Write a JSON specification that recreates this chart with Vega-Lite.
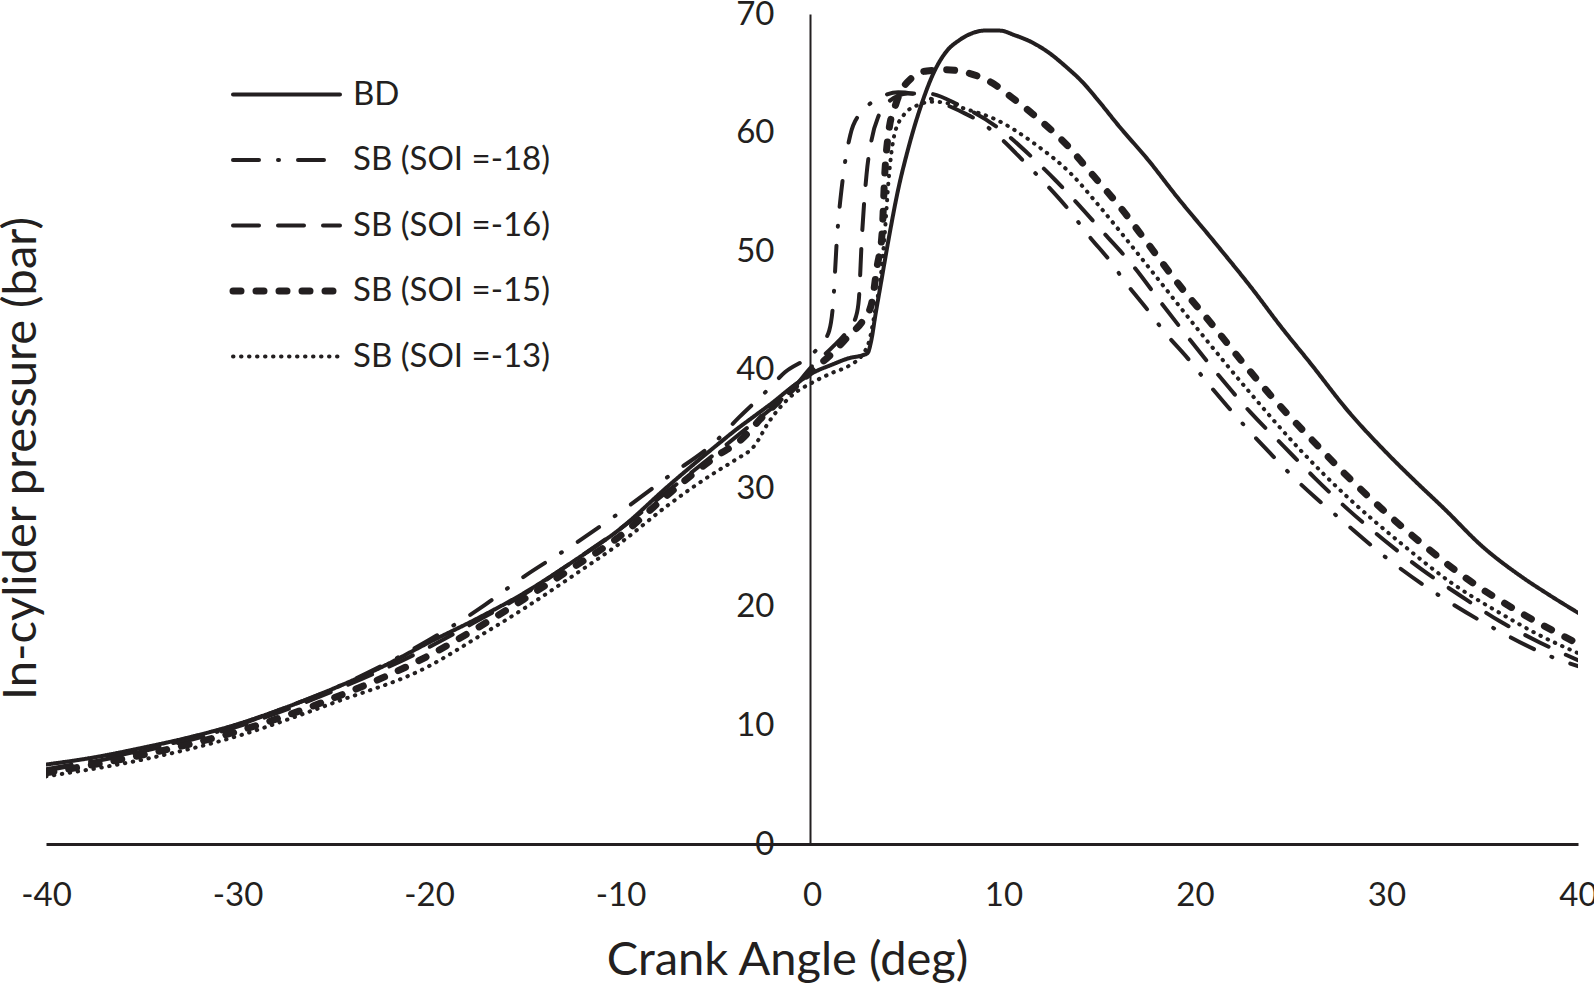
{
  "$schema": "https://vega.github.io/schema/vega-lite/v6.json",
  "width": 1532,
  "height": 830,
  "autosize": "none",
  "padding": {"left": 46, "top": 14, "right": 16, "bottom": 139},
  "background": "white",
  "config": {"view": {"stroke": null}, "font": "Lato"},
  "datasets": {
    "curves": [
      {"s":"BD","x":-40,"y":6.7},{"s":"BD","x":-37.5,"y":7.3},{"s":"BD","x":-35,"y":8.1},{"s":"BD","x":-32.5,"y":9.0},{"s":"BD","x":-30,"y":10.1},{"s":"BD","x":-27.5,"y":11.5},{"s":"BD","x":-25,"y":13.1},{"s":"BD","x":-22.5,"y":14.9},{"s":"BD","x":-20,"y":17.0},{"s":"BD","x":-17.5,"y":19.0},{"s":"BD","x":-15,"y":21.2},{"s":"BD","x":-12.5,"y":23.8},{"s":"BD","x":-10,"y":26.6},{"s":"BD","x":-7.5,"y":30.2},{"s":"BD","x":-5,"y":33.6},{"s":"BD","x":-4,"y":34.9},{"s":"BD","x":-3,"y":36.1},{"s":"BD","x":-2,"y":37.3},{"s":"BD","x":-1,"y":38.6},{"s":"BD","x":0,"y":39.7},{"s":"BD","x":1,"y":40.4},{"s":"BD","x":2,"y":41.0},{"s":"BD","x":2.6,"y":41.2},{"s":"BD","x":2.9,"y":41.4},{"s":"BD","x":3.1,"y":42.5},{"s":"BD","x":3.3,"y":44.5},{"s":"BD","x":3.6,"y":47.3},{"s":"BD","x":4.0,"y":51.0},{"s":"BD","x":4.5,"y":55.2},{"s":"BD","x":5.0,"y":58.5},{"s":"BD","x":5.7,"y":62.3},{"s":"BD","x":6.4,"y":65.2},{"s":"BD","x":7.0,"y":66.8},{"s":"BD","x":7.7,"y":67.8},{"s":"BD","x":8.4,"y":68.4},{"s":"BD","x":9.0,"y":68.6},{"s":"BD","x":9.8,"y":68.6},{"s":"BD","x":10.6,"y":68.2},{"s":"BD","x":11.5,"y":67.6},{"s":"BD","x":12.4,"y":66.7},{"s":"BD","x":13.3,"y":65.5},{"s":"BD","x":14.1,"y":64.3},{"s":"BD","x":14.9,"y":62.8},{"s":"BD","x":16.0,"y":60.6},{"s":"BD","x":17.6,"y":57.6},{"s":"BD","x":19.0,"y":54.7},{"s":"BD","x":21.0,"y":50.8},{"s":"BD","x":23.0,"y":46.8},{"s":"BD","x":24.5,"y":43.6},{"s":"BD","x":26.0,"y":40.6},{"s":"BD","x":28.0,"y":36.5},{"s":"BD","x":30.0,"y":33.0},{"s":"BD","x":31.5,"y":30.6},{"s":"BD","x":33.0,"y":28.3},{"s":"BD","x":35.0,"y":25.1},{"s":"BD","x":37.0,"y":22.6},{"s":"BD","x":38.5,"y":21.0},{"s":"BD","x":40,"y":19.5},

      {"s":"SB (SOI =-18)","x":-40,"y":6.3},{"s":"SB (SOI =-18)","x":-35,"y":7.9},{"s":"SB (SOI =-18)","x":-30,"y":10.0},{"s":"SB (SOI =-18)","x":-27.5,"y":11.5},{"s":"SB (SOI =-18)","x":-25,"y":13.1},{"s":"SB (SOI =-18)","x":-22.5,"y":15.0},{"s":"SB (SOI =-18)","x":-20,"y":17.2},{"s":"SB (SOI =-18)","x":-17.5,"y":19.7},{"s":"SB (SOI =-18)","x":-15,"y":22.6},{"s":"SB (SOI =-18)","x":-12.5,"y":25.2},{"s":"SB (SOI =-18)","x":-10,"y":28.0},{"s":"SB (SOI =-18)","x":-7.5,"y":31.0},{"s":"SB (SOI =-18)","x":-5,"y":34.0},{"s":"SB (SOI =-18)","x":-3.8,"y":36.0},{"s":"SB (SOI =-18)","x":-2.5,"y":38.0},{"s":"SB (SOI =-18)","x":-1.4,"y":39.8},{"s":"SB (SOI =-18)","x":0,"y":41.3},{"s":"SB (SOI =-18)","x":0.5,"y":42.2},{"s":"SB (SOI =-18)","x":0.9,"y":43.3},{"s":"SB (SOI =-18)","x":1.1,"y":45.5},{"s":"SB (SOI =-18)","x":1.3,"y":51.0},{"s":"SB (SOI =-18)","x":1.6,"y":56.0},{"s":"SB (SOI =-18)","x":2.0,"y":59.8},{"s":"SB (SOI =-18)","x":2.5,"y":61.6},{"s":"SB (SOI =-18)","x":3.0,"y":62.4},{"s":"SB (SOI =-18)","x":3.6,"y":63.0},{"s":"SB (SOI =-18)","x":4.5,"y":63.4},{"s":"SB (SOI =-18)","x":5.5,"y":63.2},{"s":"SB (SOI =-18)","x":6.6,"y":62.6},{"s":"SB (SOI =-18)","x":8.0,"y":61.6},{"s":"SB (SOI =-18)","x":8.7,"y":61.0},{"s":"SB (SOI =-18)","x":10.0,"y":59.3},{"s":"SB (SOI =-18)","x":11.1,"y":57.5},{"s":"SB (SOI =-18)","x":12.3,"y":55.5},{"s":"SB (SOI =-18)","x":13.4,"y":53.5},{"s":"SB (SOI =-18)","x":14.5,"y":51.2},{"s":"SB (SOI =-18)","x":15.5,"y":49.3},{"s":"SB (SOI =-18)","x":16.4,"y":47.3},{"s":"SB (SOI =-18)","x":17.5,"y":45.1},{"s":"SB (SOI =-18)","x":18.5,"y":43.0},{"s":"SB (SOI =-18)","x":19.6,"y":41.0},{"s":"SB (SOI =-18)","x":20.6,"y":39.0},{"s":"SB (SOI =-18)","x":21.7,"y":36.9},{"s":"SB (SOI =-18)","x":22.8,"y":34.9},{"s":"SB (SOI =-18)","x":23.9,"y":33.0},{"s":"SB (SOI =-18)","x":25.1,"y":31.0},{"s":"SB (SOI =-18)","x":26.3,"y":29.2},{"s":"SB (SOI =-18)","x":27.6,"y":27.4},{"s":"SB (SOI =-18)","x":30.1,"y":24.0},{"s":"SB (SOI =-18)","x":32.8,"y":20.9},{"s":"SB (SOI =-18)","x":35.6,"y":18.2},{"s":"SB (SOI =-18)","x":38.6,"y":15.8},{"s":"SB (SOI =-18)","x":40,"y":15.0},

      {"s":"SB (SOI =-16)","x":-40,"y":6.2},{"s":"SB (SOI =-16)","x":-35,"y":7.8},{"s":"SB (SOI =-16)","x":-30,"y":9.9},{"s":"SB (SOI =-16)","x":-25,"y":12.9},{"s":"SB (SOI =-16)","x":-20,"y":16.6},{"s":"SB (SOI =-16)","x":-17.5,"y":18.8},{"s":"SB (SOI =-16)","x":-15,"y":21.1},{"s":"SB (SOI =-16)","x":-12.5,"y":23.8},{"s":"SB (SOI =-16)","x":-10,"y":26.6},{"s":"SB (SOI =-16)","x":-7.5,"y":29.8},{"s":"SB (SOI =-16)","x":-5,"y":33.0},{"s":"SB (SOI =-16)","x":-3,"y":35.6},{"s":"SB (SOI =-16)","x":-2,"y":36.9},{"s":"SB (SOI =-16)","x":-1,"y":38.4},{"s":"SB (SOI =-16)","x":0,"y":40.3},{"s":"SB (SOI =-16)","x":1,"y":41.8},{"s":"SB (SOI =-16)","x":1.9,"y":43.4},{"s":"SB (SOI =-16)","x":2.3,"y":44.5},{"s":"SB (SOI =-16)","x":2.45,"y":46.0},{"s":"SB (SOI =-16)","x":2.6,"y":51.0},{"s":"SB (SOI =-16)","x":2.85,"y":56.5},{"s":"SB (SOI =-16)","x":3.1,"y":59.3},{"s":"SB (SOI =-16)","x":3.5,"y":61.5},{"s":"SB (SOI =-16)","x":4.0,"y":62.6},{"s":"SB (SOI =-16)","x":5.0,"y":63.3},{"s":"SB (SOI =-16)","x":6.0,"y":63.3},{"s":"SB (SOI =-16)","x":7.7,"y":62.3},{"s":"SB (SOI =-16)","x":9.8,"y":60.3},{"s":"SB (SOI =-16)","x":11.5,"y":57.9},{"s":"SB (SOI =-16)","x":12.7,"y":56.0},{"s":"SB (SOI =-16)","x":13.7,"y":54.3},{"s":"SB (SOI =-16)","x":15.2,"y":51.6},{"s":"SB (SOI =-16)","x":16.8,"y":48.7},{"s":"SB (SOI =-16)","x":18.3,"y":45.5},{"s":"SB (SOI =-16)","x":19.8,"y":42.4},{"s":"SB (SOI =-16)","x":21.3,"y":39.4},{"s":"SB (SOI =-16)","x":22.9,"y":36.4},{"s":"SB (SOI =-16)","x":24.6,"y":33.6},{"s":"SB (SOI =-16)","x":26.3,"y":30.8},{"s":"SB (SOI =-16)","x":28.0,"y":28.2},{"s":"SB (SOI =-16)","x":29.9,"y":25.6},{"s":"SB (SOI =-16)","x":31.8,"y":23.2},{"s":"SB (SOI =-16)","x":33.8,"y":21.0},{"s":"SB (SOI =-16)","x":35.9,"y":18.8},{"s":"SB (SOI =-16)","x":38,"y":17.0},{"s":"SB (SOI =-16)","x":40,"y":15.5},

      {"s":"SB (SOI =-15)","x":-40,"y":6.0},{"s":"SB (SOI =-15)","x":-35,"y":7.5},{"s":"SB (SOI =-15)","x":-30,"y":9.5},{"s":"SB (SOI =-15)","x":-25,"y":12.3},{"s":"SB (SOI =-15)","x":-20,"y":15.9},{"s":"SB (SOI =-15)","x":-17.5,"y":18.2},{"s":"SB (SOI =-15)","x":-15,"y":20.7},{"s":"SB (SOI =-15)","x":-12.5,"y":23.3},{"s":"SB (SOI =-15)","x":-10,"y":26.0},{"s":"SB (SOI =-15)","x":-7.5,"y":29.5},{"s":"SB (SOI =-15)","x":-5,"y":32.7},{"s":"SB (SOI =-15)","x":-3.7,"y":34.1},{"s":"SB (SOI =-15)","x":-2.6,"y":36.0},{"s":"SB (SOI =-15)","x":-1.7,"y":37.4},{"s":"SB (SOI =-15)","x":-1,"y":38.4},{"s":"SB (SOI =-15)","x":0,"y":39.9},{"s":"SB (SOI =-15)","x":1,"y":41.3},{"s":"SB (SOI =-15)","x":2.0,"y":43.0},{"s":"SB (SOI =-15)","x":2.6,"y":44.0},{"s":"SB (SOI =-15)","x":3.1,"y":45.5},{"s":"SB (SOI =-15)","x":3.4,"y":48.7},{"s":"SB (SOI =-15)","x":3.66,"y":51.5},{"s":"SB (SOI =-15)","x":3.8,"y":56.5},{"s":"SB (SOI =-15)","x":4.0,"y":60.0},{"s":"SB (SOI =-15)","x":4.4,"y":62.5},{"s":"SB (SOI =-15)","x":5.2,"y":64.6},{"s":"SB (SOI =-15)","x":6.0,"y":65.2},{"s":"SB (SOI =-15)","x":7.0,"y":65.3},{"s":"SB (SOI =-15)","x":8.2,"y":65.0},{"s":"SB (SOI =-15)","x":9.4,"y":64.2},{"s":"SB (SOI =-15)","x":10.4,"y":63.0},{"s":"SB (SOI =-15)","x":11.5,"y":61.6},{"s":"SB (SOI =-15)","x":12.5,"y":60.2},{"s":"SB (SOI =-15)","x":13.4,"y":58.8},{"s":"SB (SOI =-15)","x":14.3,"y":57.1},{"s":"SB (SOI =-15)","x":15.1,"y":55.6},{"s":"SB (SOI =-15)","x":16.0,"y":53.9},{"s":"SB (SOI =-15)","x":17.6,"y":50.5},{"s":"SB (SOI =-15)","x":19.2,"y":47.1},{"s":"SB (SOI =-15)","x":20.9,"y":43.8},{"s":"SB (SOI =-15)","x":22.6,"y":40.4},{"s":"SB (SOI =-15)","x":24.3,"y":37.2},{"s":"SB (SOI =-15)","x":26.1,"y":34.1},{"s":"SB (SOI =-15)","x":27.9,"y":31.1},{"s":"SB (SOI =-15)","x":29.8,"y":28.2},{"s":"SB (SOI =-15)","x":31.8,"y":25.4},{"s":"SB (SOI =-15)","x":34.0,"y":22.6},{"s":"SB (SOI =-15)","x":37.0,"y":19.5},{"s":"SB (SOI =-15)","x":40,"y":16.9},

      {"s":"SB (SOI =-13)","x":-40,"y":5.7},{"s":"SB (SOI =-13)","x":-35,"y":7.1},{"s":"SB (SOI =-13)","x":-30,"y":9.1},{"s":"SB (SOI =-13)","x":-25,"y":11.9},{"s":"SB (SOI =-13)","x":-20,"y":15.0},{"s":"SB (SOI =-13)","x":-17.5,"y":17.4},{"s":"SB (SOI =-13)","x":-15,"y":19.9},{"s":"SB (SOI =-13)","x":-12.5,"y":22.6},{"s":"SB (SOI =-13)","x":-10,"y":25.4},{"s":"SB (SOI =-13)","x":-7.5,"y":28.6},{"s":"SB (SOI =-13)","x":-5,"y":31.4},{"s":"SB (SOI =-13)","x":-4,"y":32.4},{"s":"SB (SOI =-13)","x":-3,"y":33.6},{"s":"SB (SOI =-13)","x":-2.25,"y":35.6},{"s":"SB (SOI =-13)","x":-1,"y":37.9},{"s":"SB (SOI =-13)","x":0,"y":38.9},{"s":"SB (SOI =-13)","x":1,"y":39.7},{"s":"SB (SOI =-13)","x":2,"y":40.4},{"s":"SB (SOI =-13)","x":2.6,"y":41.2},{"s":"SB (SOI =-13)","x":3.0,"y":42.5},{"s":"SB (SOI =-13)","x":3.3,"y":45.0},{"s":"SB (SOI =-13)","x":3.6,"y":48.0},{"s":"SB (SOI =-13)","x":3.8,"y":51.5},{"s":"SB (SOI =-13)","x":4.0,"y":56.0},{"s":"SB (SOI =-13)","x":4.3,"y":59.8},{"s":"SB (SOI =-13)","x":4.8,"y":61.5},{"s":"SB (SOI =-13)","x":5.5,"y":62.3},{"s":"SB (SOI =-13)","x":6.3,"y":62.6},{"s":"SB (SOI =-13)","x":7.0,"y":62.5},{"s":"SB (SOI =-13)","x":8.0,"y":62.0},{"s":"SB (SOI =-13)","x":9.6,"y":61.1},{"s":"SB (SOI =-13)","x":11.5,"y":59.2},{"s":"SB (SOI =-13)","x":13.6,"y":56.4},{"s":"SB (SOI =-13)","x":15.0,"y":53.8},{"s":"SB (SOI =-13)","x":17.6,"y":48.6},{"s":"SB (SOI =-13)","x":20.2,"y":43.3},{"s":"SB (SOI =-13)","x":22.8,"y":38.2},{"s":"SB (SOI =-13)","x":25.4,"y":33.4},{"s":"SB (SOI =-13)","x":28.0,"y":29.2},{"s":"SB (SOI =-13)","x":30.8,"y":25.3},{"s":"SB (SOI =-13)","x":33.5,"y":21.9},{"s":"SB (SOI =-13)","x":35.9,"y":19.5},{"s":"SB (SOI =-13)","x":38,"y":17.6},{"s":"SB (SOI =-13)","x":40,"y":16.1}
    ]
  },
  "data": {"name": "curves"},
  "mark": {"type": "line", "interpolate": "monotone", "color": "#231f20", "clip": true, "strokeCap": "round"},
  "encoding": {
    "x": {
      "field": "x", "type": "quantitative",
      "scale": {"domain": [-40, 40], "nice": false, "zero": false},
      "axis": {
        "values": [-40, -30, -20, -10, 0, 10, 20, 30, 40],
        "labelExpr": "'' + datum.value",
        "title": "Crank Angle (deg)",
        "grid": false, "ticks": false, "tickSize": 0,
        "domainColor": "#231f20", "domainWidth": 3,
        "labelFont": "Lato", "labelFontSize": 33, "labelColor": "#231f20", "labelPadding": 35, "labelFlush": false,
        "titleFont": "Lato", "titleFontSize": 47, "titleFontWeight": "normal", "titleColor": "#231f20",
        "titleX": 741, "titleY": 130, "titleBaseline": "alphabetic", "titleAlign": "center"
      }
    },
    "y": {
      "field": "y", "type": "quantitative",
      "scale": {"domain": [0, 70], "nice": false},
      "axis": {
        "values": [0, 10, 20, 30, 40, 50, 60, 70],
        "title": "In-cylider pressure (bar)",
        "offset": -764,
        "grid": false, "ticks": false, "tickSize": 0,
        "domainColor": "#231f20", "domainWidth": 2,
        "labelFont": "Lato", "labelFontSize": 33, "labelColor": "#231f20", "labelPadding": 36, "labelBaseline": "middle",
        "titleFont": "Lato", "titleFontSize": 47, "titleFontWeight": "normal", "titleColor": "#231f20",
        "titleX": -775, "titleY": 444, "titleAngle": -90, "titleBaseline": "alphabetic", "titleAlign": "center"
      }
    },
    "strokeDash": {
      "field": "s", "type": "nominal",
      "scale": {
        "domain": ["BD", "SB (SOI =-18)", "SB (SOI =-16)", "SB (SOI =-15)", "SB (SOI =-13)"],
        "range": [[1, 0], [26, 19, 1, 19], [26, 19], [8, 15], [0.5, 7.5]]
      },
      "legend": {
        "orient": "none", "legendX": 224, "legendY": 64,
        "title": null, "padding": 0,
        "symbolType": "stroke", "symbolSize": 11449, "symbolStrokeColor": "#231f20", "symbolStrokeWidth": 4,
        "labelFont": "Lato", "labelFontSize": 33, "labelColor": "#231f20", "labelOffset": 50, "labelLimit": 0,
        "rowPadding": 31.5,
        "encode": {"symbols": {"update": {
          "strokeWidth": {"signal": "datum.value === 'SB (SOI =-15)' ? 7 : 4"},
          "strokeCap": {"value": "round"}
        }}}
      }
    },
    "strokeWidth": {
      "condition": {"test": "datum.s === 'SB (SOI =-15)'", "value": 7},
      "value": 4
    },
    "order": {"field": "x", "type": "quantitative"}
  }
}
